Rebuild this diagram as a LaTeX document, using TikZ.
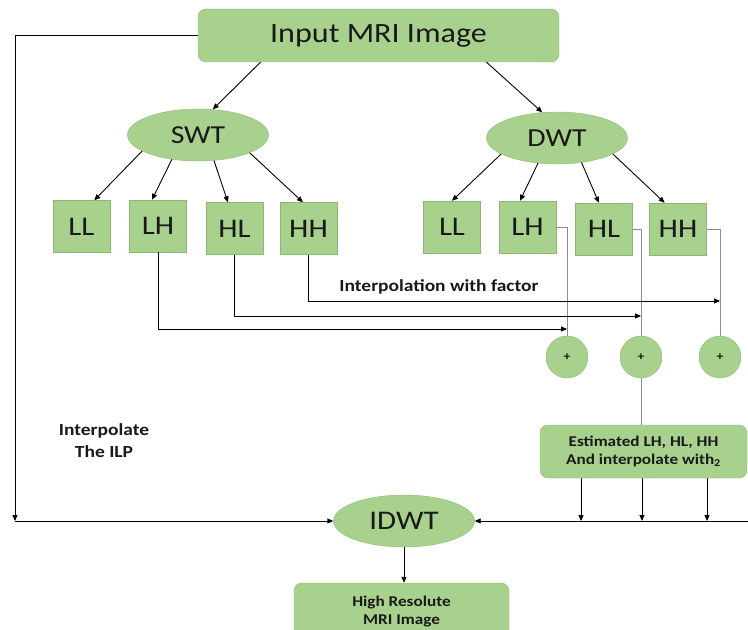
\documentclass[tikz,border=0pt]{standalone}
\usepackage{fontspec}
\setmainfont{Carlito}[FakeStretch=1.15]
\usetikzlibrary{shapes.geometric,arrows.meta}
\definecolor{mrigreen}{HTML}{A9D18E}
\definecolor{mriedge}{HTML}{8DB874}

\begin{document}
\begin{tikzpicture}[x=1bp,y=-1bp,
	>={Triangle[length=6bp,width=5bp]},
	every node/.style={text=black!90},
	block/.style={draw=mriedge,fill=mrigreen,rounded corners=8bp,inner sep=0pt},
	coef/.style={draw=mriedge,fill=mrigreen,minimum width=57bp,minimum height=52bp,
					inner sep=0pt,font=\fontsize{27}{29}\selectfont},
	wave/.style={ellipse,draw=mriedge,fill=mrigreen,minimum width=141bp,minimum height=52bp,
					inner sep=0pt,font=\fontsize{26}{28}\selectfont},
	adder/.style={circle,draw=mriedge,fill=mrigreen,minimum size=42bp,inner sep=0pt,
					font=\bfseries\fontsize{12}{14}\selectfont},
	note/.style={font=\bfseries\fontsize{15}{18}\selectfont,align=center},
	link/.style={->,line width=0.9bp,black},
	tap/.style={line width=0.8bp,black!45}]
	\clip (0,0) rectangle (748,630);

	\node[block,minimum width=361bp,minimum height=53bp,font=\fontsize{28}{30}\selectfont]
		(input) at (378.5,35.5) {Input MRI Image};
	\node[wave] (swt) at (198,135) {SWT};
	\node[wave] (dwt) at (557,138) {DWT};

	\node[coef] (sLL) at (81.5,226.5) {LL};
	\node[coef] (sLH) at (158,226) {LH};
	\node[coef] (sHL) at (234.5,228.5) {HL};
	\node[coef] (sHH) at (308.5,228.5) {HH};
	\node[coef] (dLL) at (452,227) {LL};
	\node[coef] (dLH) at (527.5,227) {LH};
	\node[coef] (dHL) at (604,229) {HL};
	\node[coef] (dHH) at (678,229) {HH};

	\node[adder] (p1) at (567,357) {+};
	\node[adder] (p2) at (641,357) {+};
	\node[adder] (p3) at (720,357) {+};

	\node[note,font=\bfseries\fontsize{17}{20}\selectfont] (factor) at (439,287) {Interpolation with factor};
	\node[note,font=\bfseries\fontsize{17}{22}\selectfont] (ilp) at (104,441) {Interpolate\\The ILP};

	\node[block,note,minimum width=207bp,minimum height=53bp]
		(est) at (643.5,451.5) {Estimated LH, HL, HH\\And interpolate with\textsubscript{2}};
	\node[wave,font=\fontsize{27}{29}\selectfont] (idwt) at (404,521) {IDWT};
	\node[block,note,minimum width=215bp,minimum height=57bp]
		(hr) at (401.5,611.5) {High Resolute\\MRI Image};

	\coordinate (bl) at (15,521);
	\coordinate (rr) at (748,521);
	\coordinate (j1) at (567,329);
	\coordinate (j2) at (641,316);
	\coordinate (j3) at (720,301);
	\coordinate (e1) at (581,521);
	\coordinate (e2) at (642,521);
	\coordinate (e3) at (707,521);

	\draw[link] ([xshift=-118bp]input.south) -- (swt.60);
	\draw[link] ([xshift=108bp]input.south) -- (dwt.120);

	\draw[link] (swt.196) -- (sLL.64);
	\draw[link] (swt.223) -- (sLH.103);
	\draw[link] (swt.302) -- (sHL.104);
	\draw[link] (swt.341) -- (sHH.102);
	\draw[link] (dwt.196) -- (dLL.north);
	\draw[link] (dwt.233) -- (dLH.106);
	\draw[link] (dwt.315) -- (dHL.101);
	\draw[link] (dwt.344) -- (dHH.117);

	\draw[tap] (dLH.east) -| (p1.north);
	\draw[tap] (dHL.east) -| (p2.north);
	\draw[tap] (dHH.east) -| (p3.north);
	\draw[tap] (p2.south) -- (p2.south |- est.north);

	\draw[link] (sLH.south) |- (j1);
	\draw[link] (sHL.south) |- (j2);
	\draw[link] (sHH.south) |- (j3);

	\draw[link] (input.west) -| (bl);
	\draw[link] (bl) -- (idwt.west);
	\draw[link] (rr) -- (idwt.east);
	\draw[link] (est.south -| e1) -- (e1);
	\draw[link] (est.south -| e2) -- (e2);
	\draw[link] (est.south -| e3) -- (e3);
	\draw[link] (idwt.south) -- (idwt.south |- hr.north);
\end{tikzpicture}
\end{document}
